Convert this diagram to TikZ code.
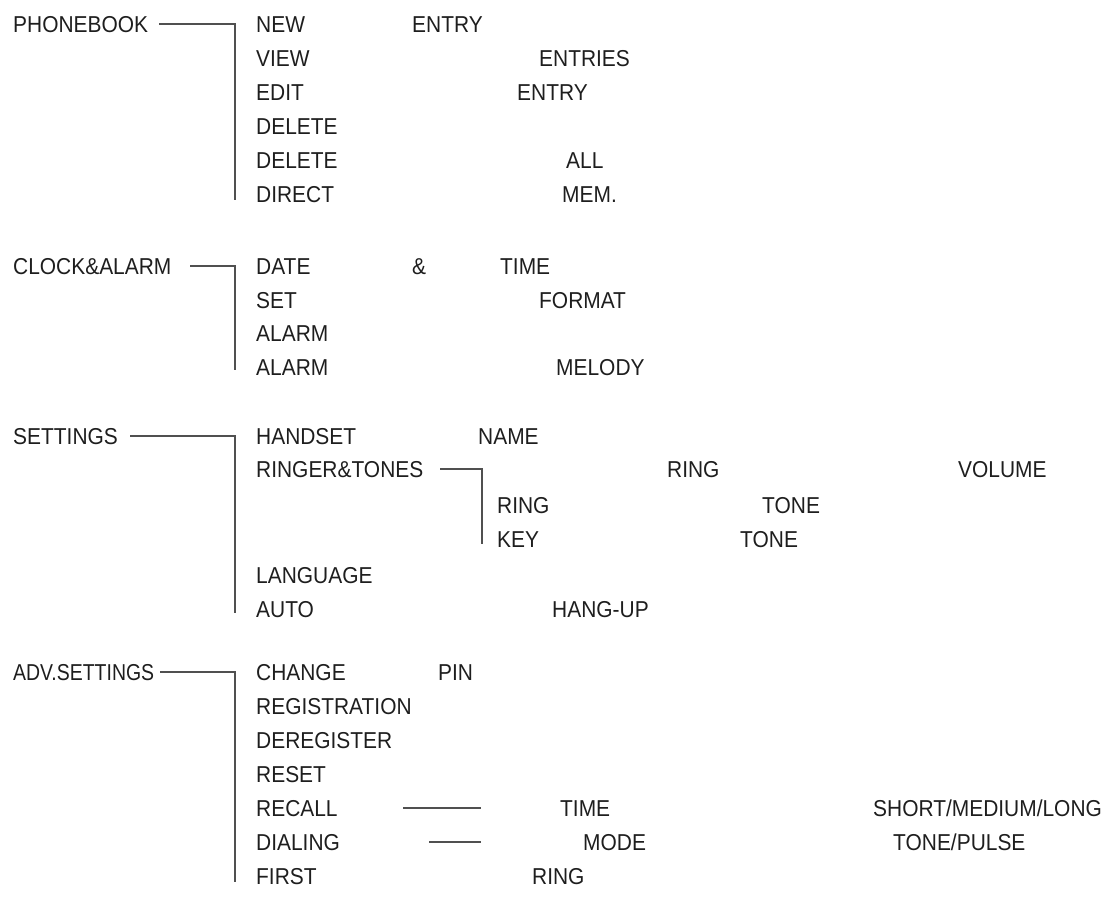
\documentclass[tikz,border=0pt]{standalone}
\usepackage{fontspec}
\usepackage{graphicx}
\setmainfont[FakeStretch=0.91]{Liberation Sans}
\definecolor{txt}{HTML}{1E1E1E}
\definecolor{ln}{HTML}{505050}
\begin{document}
\begin{tikzpicture}[x=1pt,y=-1pt,
  lbl/.style={anchor=west,inner sep=0pt,text=txt,font=\fontsize{23}{27}\selectfont,text height=16.4pt,text depth=0pt},
  br/.style={draw=ln,line width=2pt}]
\useasboundingbox (0,0) rectangle (1109,898);
% ---------- PHONEBOOK
\node[lbl] (pb) at (13,24) {PHONEBOOK};
\node[lbl] (pb1) at (256,24) {NEW};
\node[lbl] (pb1b) at (412,24) {ENTRY};
\node[lbl] (pb2) at (256,58) {VIEW};
\node[lbl] (pb2b) at (539,58) {ENTRIES};
\node[lbl] (pb3) at (256,92) {EDIT};
\node[lbl] (pb3b) at (517,92) {ENTRY};
\node[lbl] (pb4) at (256,126) {DELETE};
\node[lbl] (pb5) at (256,160) {DELETE};
\node[lbl] (pb5b) at (566,160) {ALL};
\node[lbl] (pb6) at (256,194) {DIRECT};
\node[lbl] (pb6b) at (562,194) {MEM.};
\coordinate (pbs) at (159,24);
\coordinate (pbe) at (235,200);
\draw[br] (pbs) -| (pbe);
% ---------- CLOCK&ALARM
\node[lbl] (ca) at (13,266) {CLOCK\&ALARM};
\node[lbl] (ca1) at (256,266) {DATE};
\node[lbl] (ca1b) at (412,266) {\&};
\node[lbl] (ca1c) at (500,266) {TIME};
\node[lbl] (ca2) at (256,300) {SET};
\node[lbl] (ca2b) at (539,300) {FORMAT};
\node[lbl] (ca3) at (256,333) {ALARM};
\node[lbl] (ca4) at (256,367) {ALARM};
\node[lbl] (ca4b) at (556,367) {MELODY};
\coordinate (cas) at (190,266);
\coordinate (cae) at (235,370);
\draw[br] (cas) -| (cae);
% ---------- SETTINGS
\node[lbl] (st) at (13,436) {SETTINGS};
\node[lbl] (st1) at (256,436) {HANDSET};
\node[lbl] (st1b) at (478,436) {NAME};
\node[lbl] (st2) at (256,469) {RINGER\&TONES};
\node[lbl] (st2b) at (667,469) {RING};
\node[lbl] (st2c) at (958,469) {VOLUME};
\node[lbl] (rt1) at (497,505) {RING};
\node[lbl] (rt1b) at (762,505) {TONE};
\node[lbl] (rt2) at (497,539) {KEY};
\node[lbl] (rt2b) at (740,539) {TONE};
\node[lbl] (st3) at (256,575) {LANGUAGE};
\node[lbl] (st4) at (256,609) {AUTO};
\node[lbl] (st4b) at (552,609) {HANG-UP};
\coordinate (sts) at (130,436);
\coordinate (ste) at (235,613);
\draw[br] (sts) -| (ste);
\coordinate (rts) at (440,469);
\coordinate (rte) at (482,544);
\draw[br] (rts) -| (rte);
% ---------- ADV.SETTINGS
\node[lbl] (ad) at (13,672) {\scalebox{0.93}[1]{ADV.SETTINGS}};
\node[lbl] (ad1) at (256,672) {CHANGE};
\node[lbl] (ad1b) at (438,672) {PIN};
\node[lbl] (ad2) at (256,706) {REGISTRATION};
\node[lbl] (ad3) at (256,740) {DEREGISTER};
\node[lbl] (ad4) at (256,774) {RESET};
\node[lbl] (ad5) at (256,808) {RECALL};
\node[lbl] (ad5b) at (560,808) {TIME};
\node[lbl] (ad5c) at (873,808) {SHORT/MEDIUM/LONG};
\node[lbl] (ad6) at (256,842) {DIALING};
\node[lbl] (ad6b) at (583,842) {MODE};
\node[lbl] (ad6c) at (893,842) {TONE/PULSE};
\node[lbl] (ad7) at (256,876) {FIRST};
\node[lbl] (ad7b) at (532,876) {RING};
\coordinate (ads) at (160,672);
\coordinate (ade) at (235,882);
\draw[br] (ads) -| (ade);
\coordinate (r1s) at (403,808);
\coordinate (r1e) at (481,808);
\draw[br] (r1s) -- (r1e);
\coordinate (r2s) at (429,842);
\coordinate (r2e) at (481,842);
\draw[br] (r2s) -- (r2e);
\end{tikzpicture}
\end{document}
